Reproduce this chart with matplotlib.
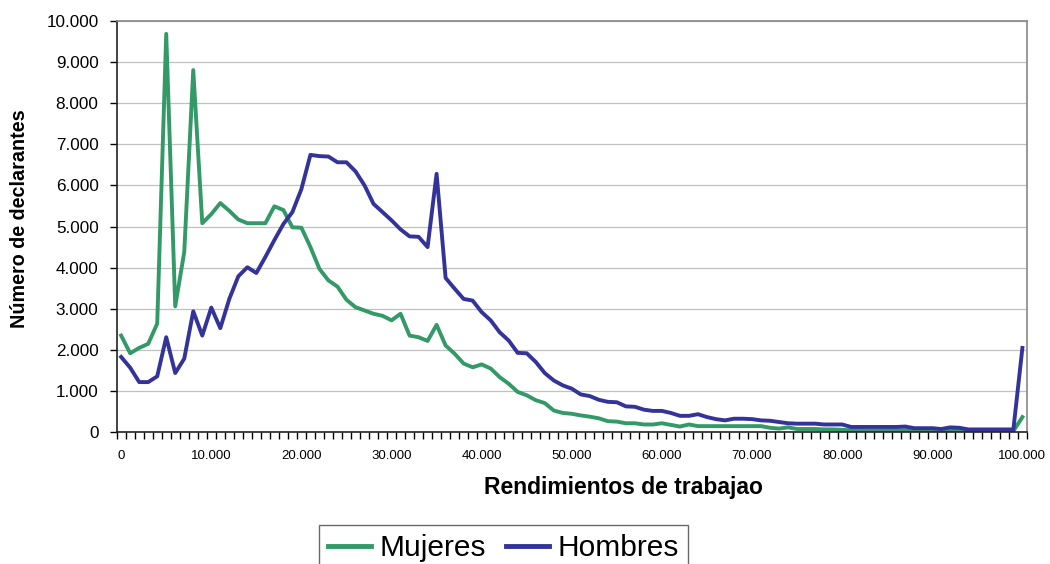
import numpy as np
import matplotlib
matplotlib.use('Agg')
import matplotlib.pyplot as plt
from matplotlib.ticker import FuncFormatter, FixedLocator

plt.rcParams['font.family'] = ['Liberation Sans', 'DejaVu Sans']

# Rendimientos de trabajo (tramos de 1.000)
rendimientos = np.arange(0, 100001, 1000)

mujeres = [2350, 1920, 2050, 2150, 2640, 9680, 3060, 4380, 8800, 5080,
           5300, 5570, 5380, 5170, 5080, 5080, 5080, 5490, 5400, 4980,
           4970, 4500, 3970, 3690, 3540, 3220, 3040, 2960, 2880, 2830,
           2720, 2880, 2350, 2310, 2220, 2610, 2110, 1910, 1670, 1580,
           1650, 1550, 1340, 1180, 980, 900, 780, 710, 530, 470,
           450, 410, 380, 340, 270, 260, 220, 220, 190, 190,
           220, 180, 140, 190, 150, 150, 150, 150, 150, 150,
           150, 150, 110, 90, 120, 80, 80, 80, 70, 70,
           60, 50, 50, 40, 40, 50, 50, 50, 40, 40,
           40, 40, 30, 40, 40, 30, 30, 30, 30, 30,
           370]

hombres = [1830, 1570, 1220, 1220, 1360, 2310, 1440, 1790, 2940, 2350,
           3030, 2530, 3240, 3790, 4010, 3870, 4260, 4670, 5060, 5350,
           5910, 6740, 6710, 6700, 6560, 6560, 6340, 6000, 5550, 5350,
           5150, 4930, 4760, 4750, 4500, 6280, 3750, 3490, 3240, 3200,
           2920, 2720, 2430, 2230, 1930, 1920, 1710, 1440, 1260, 1140,
           1060, 920, 880, 790, 740, 730, 630, 620, 550, 520,
           520, 470, 400, 400, 440, 370, 320, 290, 330, 330,
           320, 290, 280, 250, 220, 210, 210, 210, 190, 190,
           190, 130, 130, 130, 130, 130, 130, 140, 100, 100,
           100, 80, 120, 110, 70, 70, 70, 70, 70, 70,
           2050]

def miles(v, pos):
    return '{:,.0f}'.format(v).replace(',', '.')

fig = plt.figure(figsize=(10.5, 5.64), dpi=100)
ax = fig.add_axes([0.1111, 0.2335, 0.8669, 0.7298])

ax.plot(rendimientos, mujeres, color='#339966', lw=2.8, label='Mujeres', solid_joinstyle='round')
ax.plot(rendimientos, hombres, color='#333399', lw=2.8, label='Hombres', solid_joinstyle='round')

ax.set_xlim(-500, 100500)
ax.set_ylim(0, 10000)
ax.set_yticks(np.arange(0, 10001, 1000))
ax.yaxis.set_major_formatter(FuncFormatter(miles))
ax.set_xticks(np.arange(0, 100001, 10000))
ax.xaxis.set_major_formatter(FuncFormatter(miles))
ax.xaxis.set_minor_locator(FixedLocator(np.arange(-500, 100501, 1000)))
ax.tick_params(axis='x', which='major', length=0, labelsize=9.5, pad=13)
ax.tick_params(axis='x', which='minor', length=5, width=1, color='black', direction='out')
ax.tick_params(axis='y', which='major', length=5, width=1, color='black', labelsize=12.3, pad=8)

ax.grid(True, axis='y', color='#c0c0c0', lw=0.9)
ax.set_axisbelow(True)
for s in ['left', 'bottom']:
    ax.spines[s].set_color('#222222')
    ax.spines[s].set_linewidth(1.2)
for s in ['top', 'right']:
    ax.spines[s].set_color('#888888')
    ax.spines[s].set_linewidth(1.2)

fig.text(0.019, 0.612, 'Número de declarantes', rotation=90, ha='center', va='center',
         fontsize=14.2, fontweight='bold')
fig.text(0.594, 0.1365, 'Rendimientos de trabajao', ha='center', va='center',
         fontsize=16.5, fontweight='bold')

leg = fig.legend(loc='upper left', bbox_to_anchor=(319 / 1050, 1 - 525 / 564), ncol=2,
                 fontsize=21.5, frameon=True, fancybox=False, handlelength=1.45,
                 handletextpad=0.28, columnspacing=0.66, borderpad=0.3, borderaxespad=0)
leg.get_frame().set_edgecolor('#444444')
leg.get_frame().set_linewidth(1.0)
for h in leg.get_lines():
    h.set_linewidth(3.5)

fig.savefig('out.png', dpi=100)
